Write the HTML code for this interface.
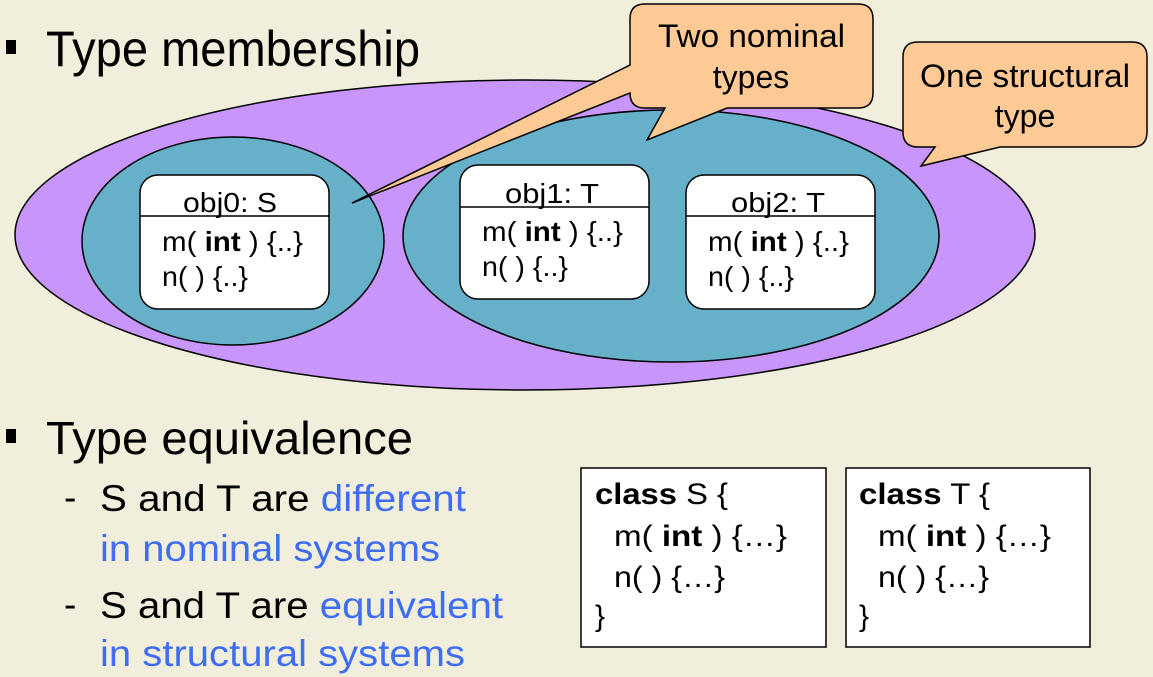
<!DOCTYPE html>
<html><head><meta charset="utf-8"><style>
html,body{margin:0;padding:0;background:#f1efdb;}
svg{display:block;font-family:"Liberation Sans",Arial,sans-serif;}
</style></head><body>
<svg width="1153" height="677" viewBox="0 0 1153 677" xmlns="http://www.w3.org/2000/svg">
<rect width="1153" height="677" fill="#f1efdb"/>
<rect x="6" y="40" width="10" height="14" fill="#000"/>
<text x="46" y="66" font-size="50" textLength="374" lengthAdjust="spacingAndGlyphs">Type membership</text>

<ellipse cx="525" cy="235" rx="510" ry="155" fill="#c895fb" stroke="#000" stroke-width="1.5"/>
<ellipse cx="233" cy="241" rx="151" ry="104" fill="#66b0c9" stroke="#000" stroke-width="1.5"/>
<ellipse cx="671" cy="236" rx="268" ry="126" fill="#66b0c9" stroke="#000" stroke-width="1.5"/>

<g font-size="28">
<rect x="140" y="175" width="189" height="134" rx="18" fill="#fff" stroke="#000" stroke-width="1.5"/>
<line x1="140" y1="216" x2="329" y2="216" stroke="#000" stroke-width="1.5"/>
<text x="183" y="212" textLength="94" lengthAdjust="spacingAndGlyphs">obj0: S</text>
<text x="162" y="251" textLength="141" lengthAdjust="spacingAndGlyphs">m( <tspan font-weight="bold">int</tspan> ) {..}</text>
<text x="162" y="286" textLength="86" lengthAdjust="spacingAndGlyphs">n( ) {..}</text>

<rect x="460" y="165" width="189" height="134" rx="18" fill="#fff" stroke="#000" stroke-width="1.5"/>
<line x1="460" y1="207" x2="649" y2="207" stroke="#000" stroke-width="1.5"/>
<text x="505" y="203" textLength="94" lengthAdjust="spacingAndGlyphs">obj1: T</text>
<text x="482" y="241" textLength="141" lengthAdjust="spacingAndGlyphs">m( <tspan font-weight="bold">int</tspan> ) {..}</text>
<text x="482" y="276" textLength="86" lengthAdjust="spacingAndGlyphs">n( ) {..}</text>

<rect x="686" y="175" width="189" height="134" rx="18" fill="#fff" stroke="#000" stroke-width="1.5"/>
<line x1="686" y1="216" x2="875" y2="216" stroke="#000" stroke-width="1.5"/>
<text x="731" y="212" textLength="94" lengthAdjust="spacingAndGlyphs">obj2: T</text>
<text x="708" y="251" textLength="141" lengthAdjust="spacingAndGlyphs">m( <tspan font-weight="bold">int</tspan> ) {..}</text>
<text x="708" y="286" textLength="86" lengthAdjust="spacingAndGlyphs">n( ) {..}</text>
</g>

<path d="M645,4 H858 Q873,4 873,19 V93 Q873,108 858,108 H727 L647,140 L665,108 H645 Q630,108 630,93 V93 L352,203 L630,65 V19 Q630,4 645,4 Z" fill="#fdca96" stroke="#000" stroke-width="1.5"/>
<text x="658" y="47" font-size="32" textLength="187" lengthAdjust="spacingAndGlyphs">Two nominal</text>
<text x="751" y="88" text-anchor="middle" font-size="32">types</text>

<path d="M918,42 H1132 Q1147,42 1147,57 V132 Q1147,147 1132,147 H1000 L921,166 L935,147 H918 Q903,147 903,132 V57 Q903,42 918,42 Z" fill="#fdca96" stroke="#000" stroke-width="1.5"/>
<text x="920" y="87" font-size="32" textLength="210" lengthAdjust="spacingAndGlyphs">One structural</text>
<text x="1025" y="127" text-anchor="middle" font-size="32">type</text>

<rect x="6" y="429" width="10" height="14" fill="#000"/>
<text x="46" y="454" font-size="46" textLength="367" lengthAdjust="spacingAndGlyphs">Type equivalence</text>
<g font-size="37">
<text x="64" y="510">-</text>
<text x="100" y="511" textLength="366" lengthAdjust="spacingAndGlyphs">S and T are <tspan fill="#3f6df3">different</tspan></text>
<text x="100" y="561" fill="#3f6df3" textLength="340" lengthAdjust="spacingAndGlyphs">in nominal systems</text>
<text x="64" y="617">-</text>
<text x="100" y="618" textLength="403" lengthAdjust="spacingAndGlyphs">S and T are <tspan fill="#3f6df3">equivalent</tspan></text>
<text x="100" y="666" fill="#3f6df3" textLength="365" lengthAdjust="spacingAndGlyphs">in structural systems</text>
</g>

<g font-size="30">
<rect x="581" y="468" width="245" height="179" fill="#fff" stroke="#000" stroke-width="1.5"/>
<text x="595" y="504" textLength="133" lengthAdjust="spacingAndGlyphs"><tspan font-weight="bold">class</tspan> S {</text>
<text x="614" y="546" textLength="173" lengthAdjust="spacingAndGlyphs">m( <tspan font-weight="bold">int</tspan> ) {…}</text>
<text x="614" y="587" textLength="111" lengthAdjust="spacingAndGlyphs">n( ) {…}</text>
<text x="595" y="626">}</text>
<rect x="846" y="468" width="244" height="179" fill="#fff" stroke="#000" stroke-width="1.5"/>
<text x="859" y="504" textLength="131" lengthAdjust="spacingAndGlyphs"><tspan font-weight="bold">class</tspan> T {</text>
<text x="878" y="546" textLength="173" lengthAdjust="spacingAndGlyphs">m( <tspan font-weight="bold">int</tspan> ) {…}</text>
<text x="878" y="587" textLength="111" lengthAdjust="spacingAndGlyphs">n( ) {…}</text>
<text x="859" y="626">}</text>
</g>
</svg>
</body></html>
